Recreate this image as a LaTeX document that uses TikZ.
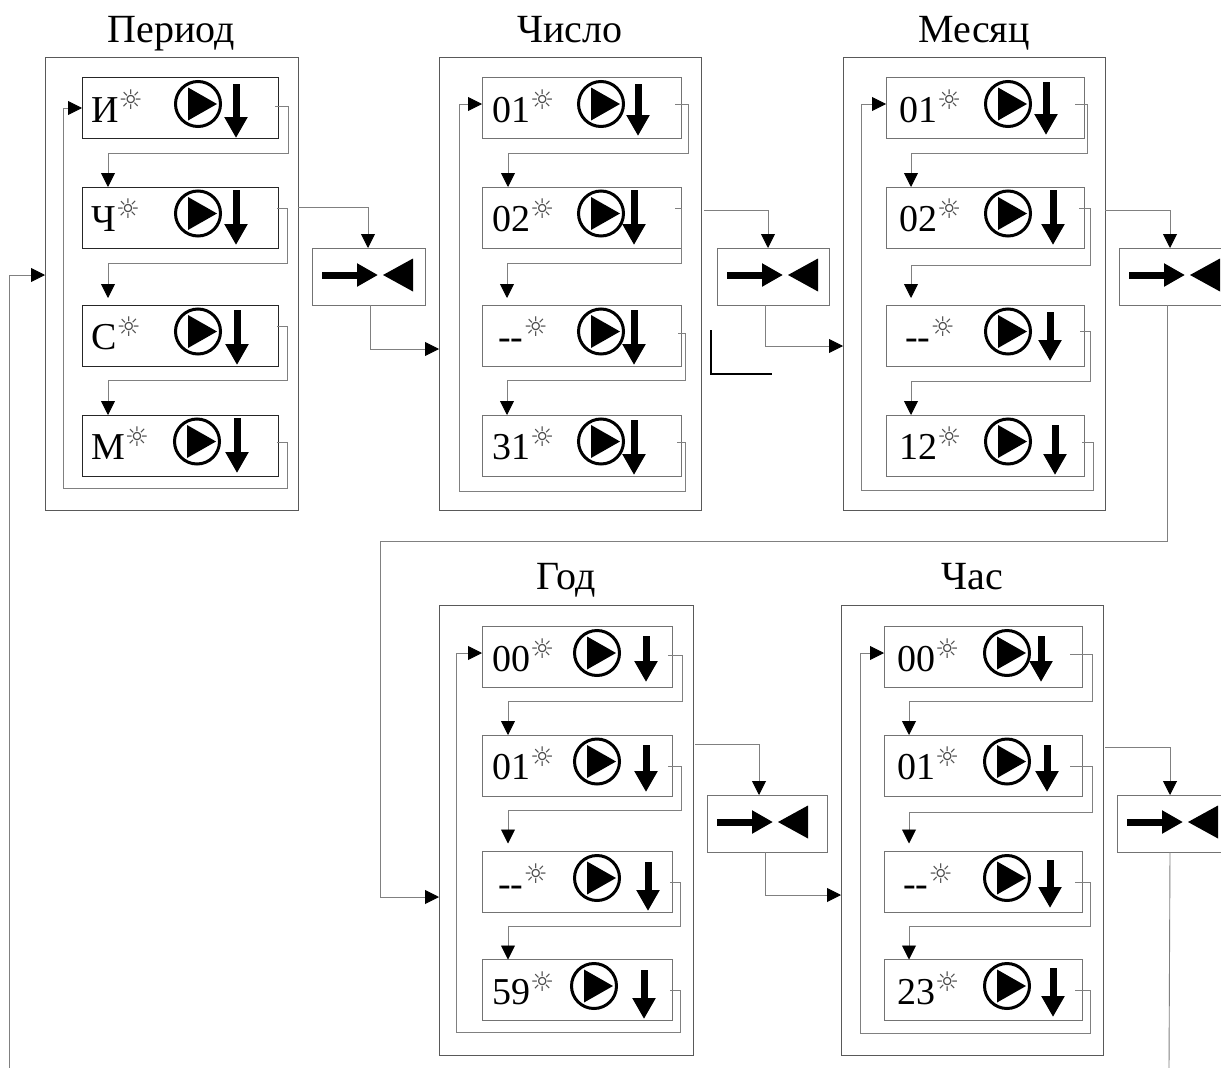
\documentclass[tikz,border=0pt]{standalone}
\usepackage{fontspec}
\setmainfont{Liberation Serif}
\newfontfamily\symfont{DejaVu Sans}
\usetikzlibrary{arrows.meta,positioning}

\tikzset{
	panelbox/.style={draw=black!65,line width=1pt,inner sep=0pt,outer sep=0pt},
	rowbox/.style={draw=black!55,line width=1pt,inner sep=0pt,outer sep=0pt,minimum height=61pt},
	mergebox/.style={draw=black!55,line width=1pt,inner sep=0pt,outer sep=0pt,minimum height=57pt},
	wire/.style={draw=black!50,line width=0.9pt,-{Triangle[length=14pt,width=14pt,color=black]}},
	plainwire/.style={draw=black!50,line width=0.9pt},
	paneltitle/.style={font=\fontsize{40}{42}\selectfont,inner sep=0pt,text height=28pt,text depth=9pt},
	rowtext/.style={font=\fontsize{38}{40}\selectfont,inner sep=0pt,anchor=base west},
	playring/.style={circle,draw,line width=3pt,minimum size=45pt,inner sep=0pt},
	fatarrow/.style={line width=7pt,-{Triangle[length=21pt,width=22pt]}}
}

\newcommand{\sunmark}{\raisebox{13pt}{\symfont\fontsize{27}{27}\selectfont\color{black!70}☼}}
\newcommand{\rowwd}{196}
\newcommand{\rowtone}{black!55}

% name, cx, cy, label, label x, ring x, arrow x, arrow top, arrow bottom
\newcommand{\rowunit}[9]{
	\node[rowbox,draw=\rowtone,minimum width=\rowwd pt] (#1) at (#2,#3) {};
	\node[rowtext] (#1t) at (#5,{#3+14}) {#4\sunmark};
	\node[playring] (#1c) at (#6,{#3-4}) {};
	\fill ([shift={(-10,-16.5)}]#1c.center) -- ([shift={(19,0)}]#1c.center) -- ([shift={(-10,16.5)}]#1c.center) -- cycle;
	\draw[fatarrow] (#7,#8) -- (#7,#9);
}
% from, to, start shift, bus x, bus y, end shift
\newcommand{\rowlink}[6]{
	\draw[wire] ([shift={#3}]#1.east) -| (#4,#5) -| ([shift={#6}]#2.north);
}
% name, left, width, cy
\newcommand{\mergeunit}[4]{
	\node[mergebox,minimum width=#3 pt] (#1) at ({#2+#3/2},#4) {};
	\draw[fatarrow] ({#2+10},{#4-1.5}) -- ({#2+66},{#4-1.5});
	\fill ({#2+71},{#4-1.5}) -- ({#2+101},{#4-18}) -- ({#2+101},{#4+15}) -- cycle;
}

\begin{document}
\begin{tikzpicture}[x=1pt,y=-1pt]
	\clip (0,0) rectangle (1221,1068);

	\node[panelbox,minimum width=253pt,minimum height=453pt] (per) at (171.5,283.5) {};
	\node[panelbox,minimum width=262pt,minimum height=453pt] (day) at (570,283.5) {};
	\node[panelbox,minimum width=262pt,minimum height=453pt] (mon) at (974,283.5) {};
	\node[panelbox,minimum width=254pt,minimum height=450pt] (yr) at (566,830) {};
	\node[panelbox,minimum width=262pt,minimum height=450pt] (hr) at (972,830) {};

	\node[paneltitle,above=5pt of per] (pertitle) {Период};
	\node[paneltitle,above=5pt of day] (daytitle) {Число};
	\node[paneltitle,above=5pt of mon] (montitle) {Месяц};
	\node[paneltitle,above=6pt of yr] (yrtitle) {Год};
	\node[paneltitle,above=6pt of hr] (hrtitle) {Час};

	\renewcommand{\rowwd}{196}
	\renewcommand{\rowtone}{black!85}
	\rowunit{per1}{180}{108}{И}{91}{198}{236}{84}{138}
	\rowunit{per2}{180}{217.5}{Ч}{91}{198}{236}{190}{245}
	\rowunit{per3}{180}{335.5}{С}{91}{198}{237}{310}{365}
	\rowunit{per4}{180}{445.5}{М}{91}{197}{237}{418}{473}
	\renewcommand{\rowtone}{black!55}
	\renewcommand{\rowwd}{199}
	\rowunit{day1}{581.5}{108}{01}{492}{601}{638}{84}{136}
	\rowunit{day2}{581.5}{217.5}{02}{492}{601}{634}{190}{245}
	\rowunit{day3}{581.5}{335.5}{-{}-}{498}{601}{634}{310}{365}
	\rowunit{day4}{581.5}{445.5}{31}{492}{601}{634}{420}{475}
	\renewcommand{\rowwd}{198}
	\rowunit{mon1}{985}{108}{01}{899}{1008}{1046}{82}{135}
	\rowunit{mon2}{985}{217.5}{02}{899}{1008}{1053}{190}{245}
	\rowunit{mon3}{985}{335.5}{-{}-}{905}{1008}{1050}{312}{361}
	\rowunit{mon4}{985}{445.5}{12}{899}{1008}{1055}{425}{475}
	\renewcommand{\rowwd}{190}
	\rowunit{yr1}{577}{657}{00}{492}{597}{646}{636}{682}
	\rowunit{yr2}{577}{765.5}{01}{492}{597}{646}{745}{792}
	\rowunit{yr3}{577}{882}{-{}-}{498}{597}{648}{862}{911}
	\rowunit{yr4}{577}{990}{59}{492}{594}{644}{970}{1019}
	\renewcommand{\rowwd}{198}
	\rowunit{hr1}{983}{657}{00}{897}{1007}{1041}{636}{682}
	\rowunit{hr2}{983}{765.5}{01}{897}{1007}{1047}{745}{792}
	\rowunit{hr3}{983}{882}{-{}-}{903}{1007}{1050}{860}{908}
	\rowunit{hr4}{983}{990}{23}{897}{1007}{1053}{968}{1017}

	\rowlink{per1}{per2}{(-3,-2)}{288}{153}{(-72,0)}
	\rowlink{per2}{per3}{(-1,-9.5)}{287}{263}{(-72,-7)}
	\rowlink{per3}{per4}{(-1,-9.5)}{287}{380}{(-72,0)}
	\draw[wire] ([shift={(-1,-3.5)}]per4.east) -| (287,488) -| (63,108) -- (per1.west);

	\rowlink{day1}{day2}{(-6,-4)}{688}{153}{(-73.5,0)}
	\rowlink{day2}{day3}{(-6,-9.5)}{681}{263}{(-74.5,-7)}
	\rowlink{day3}{day4}{(-3,-2.5)}{685}{380}{(-74.5,0)}
	\draw[wire] ([shift={(-4,-3.5)}]day4.east) -| (685,491) -| (459,104) -- ([shift={(0,-4)}]day1.west);

	\rowlink{mon1}{mon2}{(-9,-4)}{1087}{153}{(-74,0)}
	\rowlink{mon2}{mon3}{(-5,-9.5)}{1090}{265}{(-74,-7)}
	\rowlink{mon3}{mon4}{(-4,-4.5)}{1090}{381}{(-74,0)}
	\draw[wire] ([shift={(-2,-3.5)}]mon4.east) -| (1093,490) -| (861,104) -- ([shift={(0,-4)}]mon1.west);

	\rowlink{yr1}{yr2}{(-4,-2)}{682}{701}{(-69,0)}
	\rowlink{yr2}{yr3}{(-4,0.5)}{681}{810}{(-69,-8)}
	\rowlink{yr3}{yr4}{(-2,0)}{680}{926}{(-69,0)}
	\draw[wire] ([shift={(-2,0)}]yr4.east) -| (680,1032) -| (456,653) -- ([shift={(0,-4)}]yr1.west);

	\rowlink{hr1}{hr2}{(-12,-3)}{1092}{701}{(-74,0)}
	\rowlink{hr2}{hr3}{(-12,0.5)}{1092}{812}{(-74,-8)}
	\rowlink{hr3}{hr4}{(-7,0)}{1090}{926}{(-74,0)}
	\draw[wire] ([shift={(-7,0)}]hr4.east) -| (1090,1033) -| (860,653) -- ([shift={(0,-4)}]hr1.west);

	\mergeunit{m1}{312}{113}{276.5}
	\mergeunit{m2}{717}{112}{276.5}
	\mergeunit{m3}{1119}{112}{276.5}
	\mergeunit{m4}{707}{120}{823.5}
	\mergeunit{m5}{1117}{112}{823.5}

	\draw[wire] ([shift={(0,-76.5)}]per.east) -| ([shift={(-0.5,0)}]m1.north);
	\draw[wire] ([shift={(1.5,0)}]m1.south) |- ([shift={(0,65.5)}]day.west);
	\draw[wire] ([shift={(3,-73.5)}]day.east) -| ([shift={(-5,0)}]m2.north);
	\draw[wire] ([shift={(-8,0)}]m2.south) |- ([shift={(0,62.5)}]mon.west);
	\draw[wire] ([shift={(0,-73.5)}]mon.east) -| ([shift={(-5,0)}]m3.north);
	\draw[wire] ([shift={(-8,0)}]m3.south) |- (380,541) |- ([shift={(0,67)}]yr.west);
	\draw[wire] ([shift={(2,-86)}]yr.east) -| ([shift={(-8,0)}]m4.north);
	\draw[wire] ([shift={(-2,0)}]m4.south) |- ([shift={(0,65)}]hr.west);
	\draw[wire] ([shift={(2,-83)}]hr.east) -| ([shift={(-3,0)}]m5.north);

	\coordinate (inend) at (9,1068);
	\coordinate (outend) at (1169,1068);
	\draw[wire] (inend) |- ([shift={(0,-8.5)}]per.west);
	\draw[plainwire] ([shift={(-3,0)}]m5.south) -- (outend);

	\draw[line width=1.2pt] (711,330) -- (711,374) -- (772,374);
\end{tikzpicture}
\end{document}
